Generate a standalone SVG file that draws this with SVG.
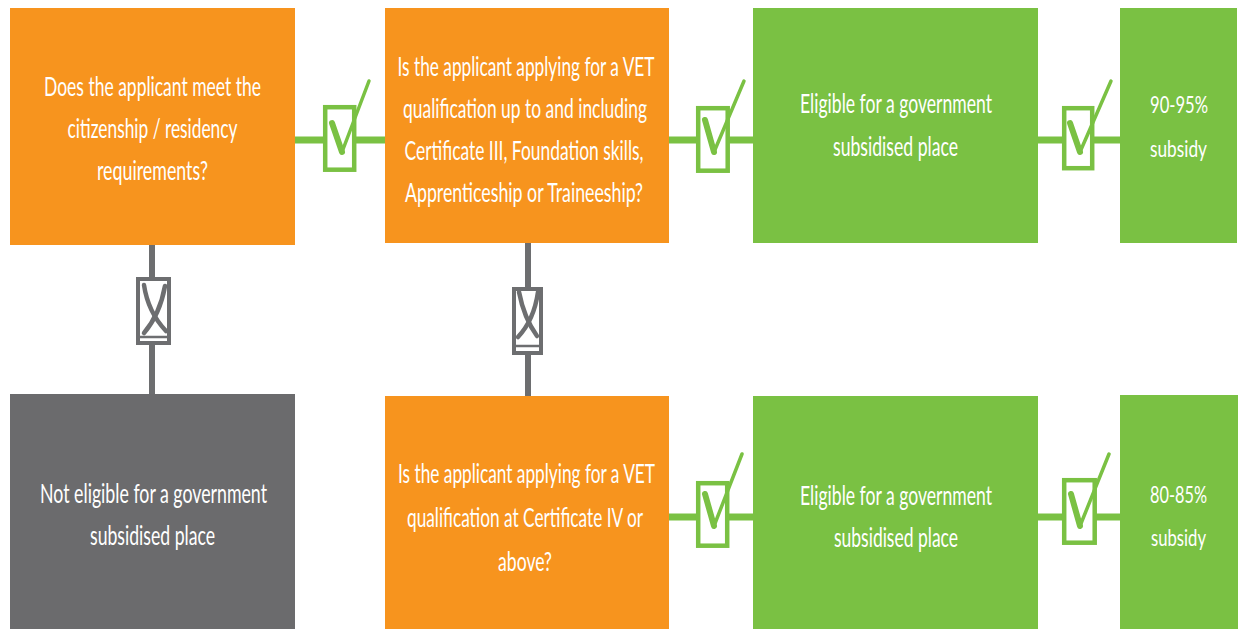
<svg xmlns="http://www.w3.org/2000/svg" width="1240" height="629" viewBox="0 0 1240 629">
<style>
.orange{fill:#F7941E}
.green{fill:#7AC143}
.gray{fill:#6B6B6D}
.t{font-family:Lato,"Open Sans","Liberation Sans",sans-serif;font-size:26.5px;fill:#FFFFFF;text-anchor:middle}
.s{font-size:24px}
.gl{stroke:#7AC143;stroke-width:7;fill:none}
.yl{stroke:#6D6E70;stroke-width:6;fill:none}
.cb{fill:#FFFFFF;stroke:#7AC143;stroke-width:4.5}
.xb{fill:#FFFFFF;stroke:#6D6E70;stroke-width:4}
.ck1{stroke:#7AC143;stroke-width:6;fill:none;stroke-linecap:round}
.ck2{stroke:#7AC143;stroke-width:3.5;fill:none;stroke-linecap:round}
.xm{stroke:#6D6E70;stroke-width:4.5;fill:none;stroke-linecap:round}
.xi{stroke:#6D6E70;stroke-width:2.5}
</style>
<rect width="1240" height="629" fill="#FFFFFF"/>
<g id="connectors">
  <line class="gl" x1="295" y1="140" x2="385" y2="140"/>
  <line class="gl" x1="669" y1="140" x2="753" y2="140"/>
  <line class="gl" x1="1038" y1="140" x2="1120" y2="140"/>
  <line class="gl" x1="669" y1="517" x2="753" y2="517"/>
  <line class="gl" x1="1038" y1="517" x2="1120" y2="517"/>
  <line class="yl" x1="152" y1="245" x2="152" y2="394"/>
  <line class="yl" x1="528" y1="243" x2="528" y2="396"/>
  <g id="check1">
    <rect class="cb" x="325.2" y="107.2" width="29" height="62.5"/>
    <path class="ck1" d="M332 123 L342 152"/>
    <path class="ck2" d="M342 152 L369 81"/>
  </g>
  <g id="check2">
    <rect class="cb" x="698.2" y="108.2" width="29.5" height="62.5"/>
    <path class="ck1" d="M705 120 L714 152"/>
    <path class="ck2" d="M714 152 L744 81"/>
  </g>
  <g id="check3">
    <rect class="cb" x="1064.2" y="108.2" width="28" height="60"/>
    <path class="ck1" d="M1070 123 L1080 152"/>
    <path class="ck2" d="M1080 152 L1111 81"/>
  </g>
  <g id="check4">
    <rect class="cb" x="698.2" y="483.2" width="29" height="62.5"/>
    <path class="ck1" d="M705 494 L714 526"/>
    <path class="ck2" d="M714 526 L742 454"/>
  </g>
  <g id="check5">
    <rect class="cb" x="1064.2" y="480.2" width="30.5" height="62.5"/>
    <path class="ck1" d="M1071 494 L1080 526"/>
    <path class="ck2" d="M1080 526 L1109 454"/>
  </g>
  <g id="cross1">
    <rect class="xb" x="138" y="279" width="31" height="64"/>
    <path class="xm" d="M144 285 Q148 312 166 331"/>
    <path class="xm" d="M165 286 Q160 314 144 333"/>
    <line class="xi" x1="140" y1="337" x2="167" y2="337"/>
  </g>
  <g id="cross2">
    <rect class="xb" x="514" y="289" width="27" height="64"/>
    <path class="xm" d="M519 292 Q524 318 537 336"/>
    <path class="xm" d="M538 292 Q534 320 518 337"/>
    <line class="xi" x1="516" y1="346" x2="539" y2="346"/>
  </g>
</g>
<g id="q1">
  <rect class="orange" x="10" y="8" width="285" height="237"/>
  <text class="t"><tspan x="152.5" y="96" textLength="217" lengthAdjust="spacingAndGlyphs">Does the applicant meet the</tspan><tspan x="152.5" y="138" textLength="170" lengthAdjust="spacingAndGlyphs">citizenship / residency</tspan><tspan x="152.5" y="180" textLength="111" lengthAdjust="spacingAndGlyphs">requirements?</tspan></text>
</g>
<g id="q2">
  <rect class="orange" x="385" y="8" width="284" height="235"/>
  <text class="t"><tspan x="526" y="76" textLength="257" lengthAdjust="spacingAndGlyphs">Is the applicant applying for a VET</tspan><tspan x="525" y="118" textLength="244" lengthAdjust="spacingAndGlyphs">qualification up to and including</tspan><tspan x="524" y="160" textLength="239" lengthAdjust="spacingAndGlyphs">Certificate III, Foundation skills,</tspan><tspan x="524" y="202" textLength="238" lengthAdjust="spacingAndGlyphs">Apprenticeship or Traineeship?</tspan></text>
</g>
<g id="eligible1">
  <rect class="green" x="753" y="8" width="285" height="235"/>
  <text class="t"><tspan x="896" y="113" textLength="192" lengthAdjust="spacingAndGlyphs">Eligible for a government</tspan><tspan x="895.5" y="156" textLength="125" lengthAdjust="spacingAndGlyphs">subsidised place</tspan></text>
</g>
<g id="subsidy1">
  <rect class="green" x="1120" y="8" width="117" height="235"/>
  <text class="t s"><tspan x="1179" y="113" textLength="58" lengthAdjust="spacingAndGlyphs">90-95%</tspan><tspan x="1178.5" y="157" textLength="57" lengthAdjust="spacingAndGlyphs">subsidy</tspan></text>
</g>
<g id="noteligible">
  <rect class="gray" x="10" y="394" width="285" height="235"/>
  <text class="t"><tspan x="153.5" y="503" textLength="227" lengthAdjust="spacingAndGlyphs">Not eligible for a government</tspan><tspan x="152.5" y="545" textLength="125" lengthAdjust="spacingAndGlyphs">subsidised place</tspan></text>
</g>
<g id="q3">
  <rect class="orange" x="385" y="396" width="284" height="233"/>
  <text class="t"><tspan x="526.5" y="483" textLength="257" lengthAdjust="spacingAndGlyphs">Is the applicant applying for a VET</tspan><tspan x="525" y="527" textLength="236" lengthAdjust="spacingAndGlyphs">qualification at Certificate IV or</tspan><tspan x="525" y="571" textLength="54" lengthAdjust="spacingAndGlyphs">above?</tspan></text>
</g>
<g id="eligible2">
  <rect class="green" x="753" y="396" width="285" height="233"/>
  <text class="t"><tspan x="896" y="505" textLength="192" lengthAdjust="spacingAndGlyphs">Eligible for a government</tspan><tspan x="896" y="547" textLength="124" lengthAdjust="spacingAndGlyphs">subsidised place</tspan></text>
</g>
<g id="subsidy2">
  <rect class="green" x="1120" y="395" width="118" height="234"/>
  <text class="t s"><tspan x="1178.5" y="503" textLength="57" lengthAdjust="spacingAndGlyphs">80-85%</tspan><tspan x="1178.5" y="546" textLength="55" lengthAdjust="spacingAndGlyphs">subsidy</tspan></text>
</g>
</svg>
